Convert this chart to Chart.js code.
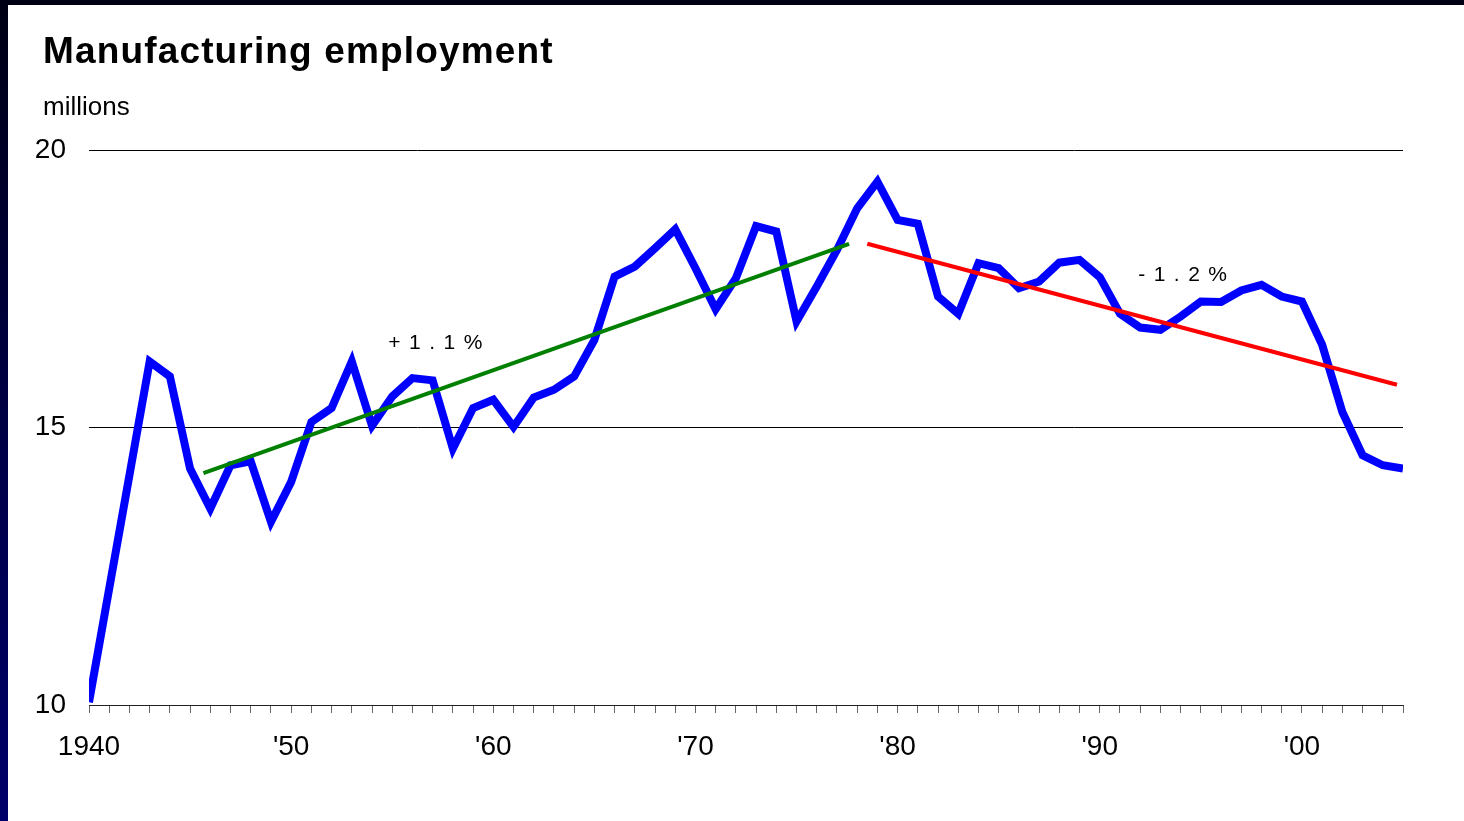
<!DOCTYPE html>
<html>
<head>
<meta charset="utf-8">
<script src="https://cdn.jsdelivr.net/npm/chart.js@4"></script>
<style>
  html, body { margin: 0; padding: 0; }
  body {
    width: 1464px;
    height: 821px;
    overflow: hidden;
    position: relative;
    background: linear-gradient(180deg, #000014 0%, #000040 45%, #00006a 100%);
    font-family: 'Liberation Sans', Arial, sans-serif;
  }
  .panel {
    position: absolute;
    left: 8px;
    top: 5px;
    width: 1456px;
    height: 816px;
    background: #fff;
  }
  canvas { position: absolute; left: 0; top: 0; }
  .title {
    position: absolute;
    left: 43px;
    top: 32px;
    font-size: 37px;
    line-height: 37px;
    font-weight: bold;
    letter-spacing: 1.15px;
    color: #000;
    white-space: nowrap;
  }
  .unit {
    position: absolute;
    left: 43px;
    top: 93px;
    font-size: 26px;
    line-height: 26px;
    color: #000;
  }
</style>
</head>
<body>
<div class="panel"></div>
<canvas id="chart" width="1464" height="821"></canvas>
<div class="title">Manufacturing employment</div>
<div class="unit">millions</div>
<script>
const years = [
  1940, 1941, 1942, 1943, 1944, 1945, 1946, 1947, 1948, 1949,
  1950, 1951, 1952, 1953, 1954, 1955, 1956, 1957, 1958, 1959,
  1960, 1961, 1962, 1963, 1964, 1965, 1966, 1967, 1968, 1969,
  1970, 1971, 1972, 1973, 1974, 1975, 1976, 1977, 1978, 1979,
  1980, 1981, 1982, 1983, 1984, 1985, 1986, 1987, 1988, 1989,
  1990, 1991, 1992, 1993, 1994, 1995, 1996, 1997, 1998, 1999,
  2000, 2001, 2002, 2003, 2004, 2005,
]
const employment = [
  10.05, 12.10, 14.14, 16.19, 15.92, 14.26, 13.54, 14.32, 14.39, 13.30,
  14.02, 15.10, 15.35, 16.19, 15.03, 15.56, 15.89, 15.85, 14.62, 15.35,
  15.50, 15.01, 15.54, 15.68, 15.92, 16.58, 17.72, 17.90, 18.23, 18.57,
  17.87, 17.13, 17.69, 18.63, 18.53, 16.91, 17.54, 18.20, 18.95, 19.43,
  18.74, 18.67, 17.36, 17.05, 17.96, 17.87, 17.51, 17.63, 17.97, 18.02,
  17.71, 17.05, 16.80, 16.76, 17.00, 17.27, 17.26, 17.47, 17.57, 17.36,
  17.27, 16.49, 15.28, 14.50, 14.32, 14.26,
]

// trend lines (start / end)
const trendUpX = [1945.66, 1977.6]
const trendUpY = [14.18, 18.31]
const trendDownX = [1978.5, 2004.7]
const trendDownY = [18.31, 15.77]

const decadeYears = [1940, 1950, 1960, 1970, 1980, 1990, 2000]
const decadeLabels = ['1940', "'50", "'60", "'70", "'80", "'90", "'00"]
const yTicks = [10, 15, 20]

const toPoints = (xs, ys) => xs.map((x, i) => ({ x, y: ys[i] }))

const growthNotes = [
  { text: '+1.1%', x: 1954.8, y: 16.41 },
  { text: '-1.2%', x: 1991.9, y: 17.64 },
]

const notesPlugin = {
  id: 'notes',
  afterDatasetsDraw(chart) {
    const { ctx, scales } = chart
    ctx.save()
    ctx.fillStyle = '#000'
    ctx.font = "21px 'Liberation Sans', Arial, sans-serif"
    ctx.textBaseline = 'alphabetic'
    growthNotes.forEach((note) => {
      let px = scales.x.getPixelForValue(note.x)
      const py = scales.y.getPixelForValue(note.y)
      for (const ch of note.text) {
        ctx.fillText(ch, px, py)
        px += ctx.measureText(ch).width + 8.5
      }
    })
    ctx.restore()
  },
}

Chart.defaults.font.family = "'Liberation Sans', Arial, sans-serif"
Chart.defaults.color = '#000'

new Chart(document.getElementById('chart').getContext('2d'), {
  type: 'line',
  data: {
    datasets: [
      {
        data: toPoints(years, employment),
        borderColor: '#0000ff',
        borderWidth: 8,
        pointRadius: 0,
        tension: 0,
        clip: 0,
        order: 2,
      },
      {
        data: toPoints(trendUpX, trendUpY),
        borderColor: '#008000',
        borderWidth: 4,
        pointRadius: 0,
        order: 1,
      },
      {
        data: toPoints(trendDownX, trendDownY),
        borderColor: '#ff0000',
        borderWidth: 4,
        pointRadius: 0,
        order: 1,
      },
    ],
  },
  options: {
    responsive: false,
    animation: false,
    devicePixelRatio: 1,
    layout: { padding: { left: 0, right: 61, top: 150, bottom: 0 } },
    plugins: {
      legend: { display: false },
      tooltip: { enabled: false },
      title: { display: false },
    },
    scales: {
      x: {
        type: 'linear',
        min: 1940,
        max: 2005,
        afterFit: (scale) => {
          scale.height = 116
        },
        border: { display: true, color: '#222', width: 1 },
        grid: {
          drawOnChartArea: false,
          drawTicks: true,
          tickLength: 8,
          tickColor: '#666',
        },
        ticks: {
          stepSize: 1,
          maxTicksLimit: 100,
          autoSkip: false,
          maxRotation: 0,
          padding: 17,
          font: { size: 28 },
          callback: (value) => {
            const i = decadeYears.indexOf(value)
            return i >= 0 ? decadeLabels[i] : ''
          },
        },
      },
      y: {
        min: 10,
        max: 20,
        afterFit: (scale) => {
          scale.width = 89
        },
        afterBuildTicks: (scale) => {
          scale.ticks = yTicks.map((value) => ({ value }))
        },
        border: { display: false },
        grid: {
          color: '#000',
          lineWidth: 1,
          drawTicks: false,
        },
        ticks: {
          padding: 23,
          font: { size: 28 },
        },
      },
    },
  },
  plugins: [notesPlugin],
})
</script>
</body>
</html>
